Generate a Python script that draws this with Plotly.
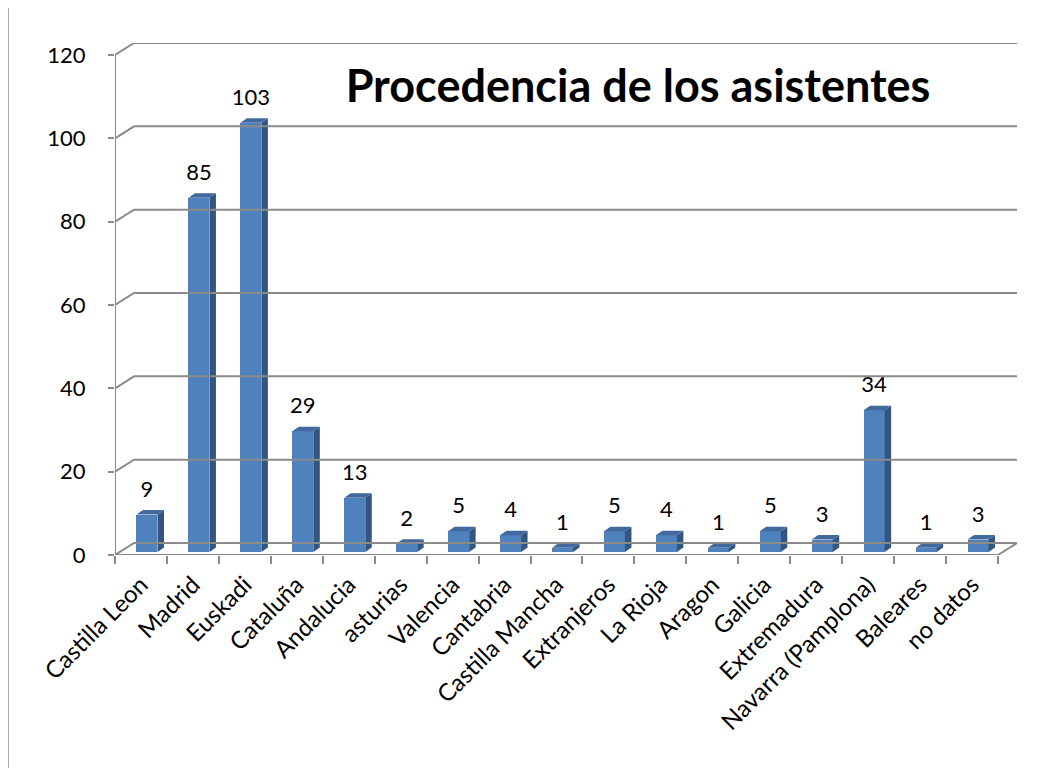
import plotly.graph_objects as go

categories = ["Castilla Leon", "Madrid", "Euskadi", "Cataluña", "Andalucia", "asturias",
              "Valencia", "Cantabria", "Castilla Mancha", "Extranjeros", "La Rioja", "Aragon",
              "Galicia", "Extremadura", "Navarra (Pamplona)", "Baleares", "no datos"]
values = [9, 85, 103, 29, 13, 2, 5, 4, 1, 5, 4, 1, 5, 3, 34, 1, 3]
y_ticks = [0, 20, 40, 60, 80, 100, 120]
title_text = "Procedencia de los asistentes"

# geometry (pixels -> data units)
W, H = 1053, 768
OFF = 8  # default page body margin
L, R, T, B = 115, 1017, 43, 555
n = len(categories)
cat_px = (997 - 115) / n
dx_px, dy_px = 19.0, 12.0
dxu = dx_px / cat_px
ymax = 120
px_per_unit = (B - 12 - T) / ymax
dyu = dy_px / px_per_unit
xr = [-0.5, n - 0.5 + dxu]
yr = [0, ymax + dyu]

GRID = "#8a8a8a"
FRONT = "#4F81BD"
SIDE = "#34557F"
TOP = "#42699D"

# bar geometry
f0 = -4.5 / cat_px
f1 = 16.5 / cat_px
bdx = 6.5 / cat_px
bdy = 4.5 / px_per_unit
base = 3.0 / px_per_unit
xs = list(range(n))

fig = go.Figure()

shapes = []
for v in y_ticks:
    shapes.append(dict(type="path", xref="x", yref="y",
                       path=f"M {-0.5},{v} L {-0.5+dxu},{v+dyu} L {n-0.5+dxu},{v+dyu}",
                       line=dict(color=GRID, width=2)))
shapes.append(dict(type="path", xref="x", yref="y",
                   path=f"M {-0.5},0 L {n-0.5},0 L {n-0.5+dxu},{dyu}",
                   line=dict(color=GRID, width=2)))
shapes.append(dict(type="line", xref="x", yref="y", x0=-0.5, x1=-0.5, y0=0, y1=ymax,
                   line=dict(color=GRID, width=2)))
fx0 = (8 - L) / (R - L)
fy1 = (B - 5) / (B - T)
shapes.append(dict(type="rect", xref="paper", yref="paper", x0=fx0, x1=2, y0=-2, y1=fy1,
                   line=dict(color="#8c8c8c", width=1.5), fillcolor="rgba(0,0,0,0)", layer="below"))

fig.add_trace(go.Bar(x=xs, y=values, base=[base] * n, width=f1 - f0, offset=f0,
                     marker=dict(color=FRONT, line=dict(width=0)),
                     hoverinfo="skip", showlegend=False))

sx, sy = [], []
for i, v in enumerate(values):
    xa = i + f1
    sx += [xa, xa + bdx, xa + bdx, xa, xa, None]
    sy += [base, base + bdy, base + v + bdy, base + v, base, None]
fig.add_trace(go.Scatter(x=sx, y=sy, mode="lines", fill="toself", fillcolor=SIDE,
                         line=dict(width=0, color=SIDE), hoverinfo="skip", showlegend=False))
tx, ty = [], []
for i, v in enumerate(values):
    xa, xb = i + f0, i + f1
    h = base + v
    tx += [xa, xb, xb + bdx, xa + bdx, xa, None]
    ty += [h, h, h + bdy, h + bdy, h, None]
fig.add_trace(go.Scatter(x=tx, y=ty, mode="lines", fill="toself", fillcolor=TOP,
                         line=dict(width=0, color=TOP), hoverinfo="skip", showlegend=False))

fig.add_trace(go.Scatter(x=[i + (f0 + f1) / 2 for i in xs],
                         y=[v + base + 3.0 for v in values],
                         mode="text", text=[str(v) for v in values], textposition="top center",
                         textfont=dict(family="Lato", size=22, color="black"),
                         hoverinfo="skip", showlegend=False))

fig.update_layout(
    width=W, height=H,
    margin=dict(l=L - OFF, r=W - R + OFF, t=T - OFF, b=H - B + OFF, pad=0),
    paper_bgcolor="white", plot_bgcolor="white",
    shapes=shapes,
    title=dict(text=f"<b>{title_text}</b>", x=(638 - OFF) / W, y=1 - (86 - OFF) / H,
               xanchor="center", yanchor="middle",
               font=dict(family="Lato", size=45, color="black")),
    xaxis=dict(range=xr, tickmode="array", tickvals=xs, ticktext=categories,
               tickangle=-45, ticks="", showgrid=False, zeroline=False, showline=False,
               tickfont=dict(family="Lato", size=24, color="black"),
               ticklabelstandoff=10,
               minor=dict(tickmode="array", tickvals=[i - 0.5 for i in range(n + 1)],
                          ticks="outside", ticklen=8, tickwidth=2, tickcolor=GRID,
                          showgrid=False)),
    yaxis=dict(range=yr, tickmode="array", tickvals=y_ticks, ticks="outside", ticklen=6,
               tickwidth=2, tickcolor=GRID, showgrid=False, zeroline=False, showline=False,
               tickfont=dict(family="Lato", size=22, color="black"), ticklabelstandoff=18),
    bargap=0,
)

fig.write_html("out.html")
